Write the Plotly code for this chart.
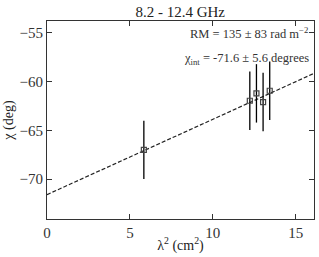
import numpy as np
import plotly.graph_objects as go

# data
lam2 = [5.84, 12.23, 12.63, 13.03, 13.43]
chi = [-67.0, -61.96, -61.2, -62.09, -60.93]
chi_err = [3.0, 3.0, 3.0, 3.0, 3.0]
rm = 135.0
chi_int = -71.6
x_fit = [0.0, 16.1]

slope = rm * 1e-4 * 180.0 / np.pi
y_fit = [chi_int + slope * x for x in x_fit]

FONT = "Liberation Serif, DejaVu Serif, serif"

fig = go.Figure()
fig.add_trace(go.Scatter(
    x=x_fit, y=y_fit, mode="lines",
    line=dict(color="#222222", width=1.2, dash="4px,2px"),
    showlegend=False, hoverinfo="skip"))
fig.add_trace(go.Scatter(
    x=lam2, y=chi, mode="markers",
    marker=dict(symbol="square-open", size=5, color="#444444", line=dict(width=1.2)),
    error_y=dict(type="data", array=chi_err, visible=True, color="black", thickness=1.3, width=0),
    showlegend=False))

axis_common = dict(
    showline=True, linecolor="#333333", linewidth=1, mirror="ticks",
    ticks="inside", ticklen=5, tickcolor="#333333", tickwidth=1,
    showgrid=False, zeroline=False,
    tickfont=dict(family=FONT, size=15, color="#333333"),
)

fig.update_layout(
    width=319, height=257,
    margin=dict(l=47, r=5, t=21, b=38),
    paper_bgcolor="white", plot_bgcolor="white",
    title=dict(text="8.2 - 12.4 GHz", x=0.565, xanchor="center", y=0.955, yanchor="middle",
               font=dict(family=FONT, size=15, color="#222222")),
    xaxis=dict(range=[0, 16.1], tickvals=[0, 5, 10, 15],
               title=dict(text="λ<sup>2</sup> (cm<sup>2</sup>)", standoff=0,
                          font=dict(family=FONT, size=14, color="#222222")),
               **axis_common),
    yaxis=dict(range=[-74.1, -53.77], tickvals=[-70, -65, -60, -55],
               title=dict(text="χ (deg)", standoff=2,
                          font=dict(family=FONT, size=14, color="#222222")),
               **axis_common),
    annotations=[
        dict(text="RM = 135 ± 83 rad m<sup>−2</sup>", xref="paper", yref="paper",
             x=0.985, y=0.939, xanchor="right", yanchor="middle", showarrow=False,
             font=dict(family=FONT, size=12.5, color="#333333")),
        dict(text="χ<sub>int</sub> = -71.6 ± 5.6 degrees", xref="paper", yref="paper",
             x=0.99, y=0.81, xanchor="right", yanchor="middle", showarrow=False,
             font=dict(family=FONT, size=12.5, color="#333333")),
    ],
)

fig.write_html("out.html", config={"displayModeBar": False})
with open("out.html", encoding="utf-8") as f:
    html = f.read()
html = html.replace("<head>", "<head><style>html,body{margin:0;padding:0;overflow:hidden;}</style>", 1)
with open("out.html", "w", encoding="utf-8") as f:
    f.write(html)
